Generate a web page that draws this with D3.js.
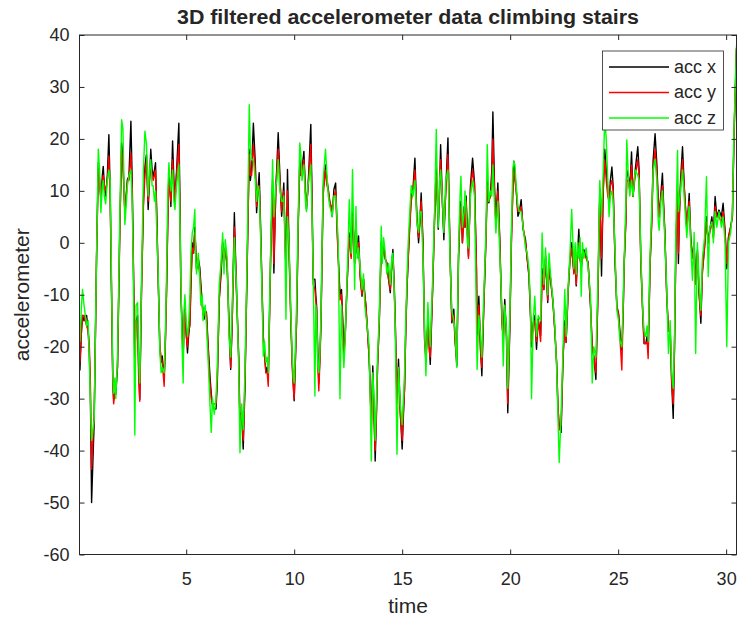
<!DOCTYPE html>
<html><head><meta charset="utf-8">
<script src="https://cdn.jsdelivr.net/npm/d3@7"></script>
<style>
body{margin:0;background:#fff}
svg{display:block}
text{font-family:"Liberation Sans",Arial,Helvetica,sans-serif;fill:#262626}
</style>
</head><body>
<svg id="chart" width="739" height="622"></svg>
<script>
const times=[0.06,0.08,0.15,0.20,0.27,0.33,0.39,0.46,0.51,0.56,
0.62,0.68,0.74,0.85,0.93,0.99,1.05,1.12,1.16,1.21,
1.27,1.35,1.42,1.48,1.54,1.60,1.64,1.70,1.74,1.82,
1.93,2.01,2.07,2.16,2.22,2.28,2.35,2.44,2.50,2.55,
2.62,2.68,2.75,2.80,2.85,2.93,3.02,3.09,3.16,3.24,
3.30,3.36,3.42,3.47,3.53,3.58,3.64,3.70,3.78,3.84,
3.89,3.98,4.04,4.09,4.15,4.20,4.25,4.29,4.37,4.43,
4.48,4.55,4.66,4.72,4.75,4.81,4.86,4.90,4.94,5.00,
5.06,5.11,5.17,5.22,5.28,5.34,5.40,5.45,5.48,5.56,
5.63,5.68,5.74,5.78,5.83,5.88,5.94,6.02,6.10,6.16,
6.22,6.30,6.38,6.44,6.53,6.61,6.69,6.75,6.81,6.90,
6.98,7.06,7.13,7.23,7.28,7.33,7.43,7.49,7.53,7.57,
7.64,7.72,7.83,7.92,7.97,8.03,8.11,8.20,8.26,8.32,
8.38,8.44,8.49,8.57,8.63,8.69,8.75,8.80,8.91,9.00,
9.06,9.15,9.20,9.26,9.34,9.42,9.48,9.52,9.57,9.62,
9.66,9.69,9.77,9.85,9.91,9.96,10.00,10.06,10.11,10.19,
10.26,10.31,10.36,10.45,10.52,10.57,10.63,10.68,10.77,10.83,
10.88,10.96,11.00,11.04,11.10,11.14,11.19,11.24,11.34,11.45,
11.52,11.58,11.65,11.71,11.76,11.84,11.92,11.98,12.04,12.12,
12.19,12.25,12.30,12.36,12.44,12.50,12.55,12.60,12.64,12.70,
12.75,12.80,12.86,12.92,12.98,13.06,13.14,13.21,13.27,13.32,
13.41,13.47,13.52,13.57,13.64,13.70,13.75,13.81,13.86,13.94,
14.03,14.08,14.14,14.22,14.29,14.37,14.45,14.52,14.57,14.63,
14.68,14.76,14.83,14.91,15.00,15.06,15.11,15.16,15.22,15.28,
15.34,15.42,15.50,15.59,15.64,15.68,15.76,15.82,15.88,15.96,
16.04,16.10,16.19,16.26,16.30,16.41,16.50,16.58,16.63,16.67,
16.73,16.78,16.87,16.93,17.02,17.12,17.17,17.22,17.30,17.39,
17.45,17.53,17.61,17.68,17.72,17.79,17.87,17.91,17.96,18.02,
18.07,18.16,18.26,18.35,18.44,18.47,18.55,18.63,18.69,18.78,
18.88,18.94,19.01,19.09,19.15,19.20,19.28,19.34,19.43,19.52,
19.62,19.68,19.75,19.83,19.89,19.99,20.06,20.12,20.17,20.22,
20.28,20.36,20.43,20.51,20.60,20.71,20.79,20.87,20.94,20.99,
21.07,21.14,21.22,21.30,21.41,21.48,21.56,21.64,21.74,21.80,
21.87,21.98,22.07,22.15,22.21,22.27,22.36,22.45,22.53,22.59,
22.69,22.76,22.85,22.95,23.01,23.06,23.12,23.18,23.24,23.29,
23.35,23.41,23.52,23.61,23.72,23.80,23.87,23.97,24.06,24.15,
24.23,24.31,24.38,24.45,24.52,24.58,24.64,24.71,24.77,24.86,
24.94,25.02,25.08,25.17,25.24,25.28,25.36,25.40,25.48,25.54,
25.62,25.69,25.79,25.91,25.97,26.05,26.13,26.20,26.28,26.34,
26.39,26.48,26.56,26.62,26.71,26.79,26.86,26.90,26.98,27.05,
27.10,27.16,27.25,27.33,27.41,27.48,27.55,27.61,27.67,27.75,
27.79,27.84,27.89,27.98,28.07,28.13,28.18,28.24,28.29,28.36,
28.44,28.52,28.59,28.67,28.75,28.83,28.90,29.00,29.09,29.17,
29.24,29.34,29.41,29.49,29.57,29.67,29.78,29.86,29.95,30.03,
30.11,30.21,30.29,30.37,30.48];

const accX=[-22,-24.5,-17,-14,-15,-14,-14,-17,-21,-28,
-50,-42,-34.6,-2.6,15.4,12,8.3,13,14.7,11,
9,13,20.8,10,-9,-26,-30,-29,-29.2,-24,
3.8,19.2,16,5.8,9,12.2,12.8,23.4,12,-2.6,
-21.8,-15,-14,-24,-30.1,-9,8,14.7,17,6.4,
12,18,14,12.8,14,15.4,5,-6.4,-20.5,-23,
-21.8,-26,-18,-9,5,13,11,7,19.6,12,
8,13.5,23,5,-9,-16,-22,-15,-12.2,-17,
-21.2,-18,-15.4,-8,0,-2,3,-2,-5.1,-3,
-4.8,-8,-11.5,-13,-14.7,-13,-13.5,-20,-25.6,-29,
-31.4,-32,-32,-27,-10.9,-6.4,0,-3.8,-1,-4.5,
-15.4,-24.4,-15.4,5.8,-2,-9,-21.8,-35,-33,-32.7,
-39.7,-28,-2.6,18,12,14.1,23,15.4,5.8,10,
13.5,4,-5.1,-18,-21,-25,-24,-26,-2.6,12,
-5.8,10.3,15,21.2,12.8,5.1,9,11.5,2,-5,
4,14.1,-2.6,-15.4,-23,-27,-30.4,-22,-15.4,3.8,
16,13,14.1,17.6,10,6.4,10,14.1,22.8,8,
-7,-7,-10,-12.2,-22,-27,-22,-15.4,10.3,15,
12,10.3,7.7,7,5.1,10.3,11.5,4,-2.6,-10,
-9,-15,-21,-18,-9,-3,1.9,0,-2.6,6,
2,-4,3.8,-2,1.3,-6.4,-10.3,-7,-10,-12.2,
-17.9,-22,-28.2,-35,-23.7,-33,-42,-33,-23.7,-15.4,
0,-3,-0.6,-3.2,-3.8,-7,-9.6,-4,-1.3,-8,
-15.4,-30,-22.4,-32,-39.7,-33,-28.2,-18,-9,-3,
2.6,9,10.3,16.3,10,5.1,0,4,9.6,0.6,
-18.6,-22,-15,-20,-23.4,-9,5.1,15,8,2.6,
10,18.9,7,0.6,10.3,20.2,8,-2.6,-15.4,-12.8,
-18.6,-23.7,-2.6,6,8,0,7,3,9,2,
-2.6,10.9,16.3,11.5,-5,-18,-10.3,-20.5,-25.6,-12.2,
0.6,12,7.7,9.6,14,25.2,10.3,4,11.5,0.6,
-15.4,-18,-10.9,-17.9,-32.7,-15.4,1.3,10,15.7,13,
10.3,5.1,6,8.3,2.6,0.6,-3.2,-6.4,-14.1,-20,
-15.4,-14,-20.5,-14.7,-17.9,-5,-9,-2.6,-11.5,-5,
-7,-11.5,-17,-23,-31.4,-35.3,-36.5,-21.8,-15,-19.2,
-9,-3.8,0,-5.8,-3,-8.3,-2,2.6,-3,-5,
-2,-1.3,-2.6,-3.8,-12.2,-20,-21.8,-26.3,-10.3,10.3,
-6.4,10.3,18,14,10,8,12,14.6,10.8,-4,
-12.3,-13.6,-17,-20.7,-12,-4,5,14,12.7,10.1,
17.5,8.9,14,18.5,14,-3.3,-12.3,-19.4,-19.4,-18,
-21,-4,5,15.9,21,15.3,8,5,9.5,13.4,
8,2.4,-10.4,-17,-16.8,-27,-33.8,-20,-1.4,10,
-4,6,12,18.5,10.1,6,2.4,6,9.5,1.2,
-3,0,-8,-1.4,-9.8,-15.5,-5.3,-0.8,5,0,
2.4,5,1.2,8.9,5,6.3,5,7.6,2.4,-5,
1.2,3.1,5,21.7,37.4];

const accY=[-20,-23,-17,-14,-14,-15,-16,-17,-19,-26,
-43.6,-38,-33,-3,14,11,9,12,13,11,
10,12,16.7,9,-8,-27,-31,-29,-28,-23.7,
3,18,15,6,9,12,12,17.3,10,-3,
-22,-15,-16,-26,-30.5,-10,7,13,16,8,
12,15,13,12,13,14,4,-6,-20,-22,
-23,-27.6,-19,-10,4,12,10,8,16,11,
8,13,19,3,-8,-17,-22,-16,-13,-18,
-20,-17,-16,-8,-1,-2,2,-2,-5,-4,
-6,-9,-12,-14,-14,-13,-14,-21,-27,-30,
-31,-31,-31,-26,-11,-5,0,-4,-1,-5,
-15,-24,-15,3,-3,-10,-22,-36,-33,-33,
-38,-27,-3,17,13,13,19,14,7,10,
11,3,-5,-19,-22,-25,-25,-27.6,-3,11,
-4,10,14,18,12,6,9,10,2,-6,
3,10,-3,-16,-24,-28,-30,-22,-15,4,
15,13,14,16,10,7,10,13,19,7,
-8,-9,-11,-13,-24,-28.5,-23,-16,9,14,
11,10,8,7,6,9,10,3,-3,-11,
-10,-16,-22,-18,-9,-3,1,-1,-3,5,
2,-4,3,-2,0,-7,-10,-7,-10,-12,
-18,-22,-28,-36,-26,-34,-40,-32,-24,-15,
-1,-3,-1,-3,-4,-7,-9,-4,-3,-8,
-15,-31,-24,-33,-38,-32,-28,-18,-9,-3,
2,8,10,14,9,5,1,4,8,0,
-19,-23,-16,-21,-22,-9,4,13,8,4,
10,16,7,2,10,17,8,-3,-15,-14,
-19,-22.5,-3,5,7,0,6,3,8,2,
-3,10,14,11,-5,-17,-12,-21,-24,-12,
1,11,8,9,12,20,9,4,10,0,
-15,-19,-12,-18,-31,-15,0,9,14,12,
10,6,6,7,3,0,-3,-6,-13,-19,
-16,-15,-19,-15,-19,-6,-9,-3,-11,-5,
-7,-11,-17,-23,-31,-36,-35,-22,-16,-19,
-9,-4,-1,-6,-3,-8,-2,0,-3,-5,
-2,-2,-3,-4,-12,-20,-22,-25,-11,9,
-3,10,16,12,9,8,11,12,10,-4,
-12,-14,-18,-24.5,-12,-4,4,12,12,10,
15,9,13,16,13,-4,-13,-19.4,-19.4,-19,
-22.3,-4,4,14,18,14,7,5,9,11,
7,2,-10,-17,-17,-27,-31,-20,-2,9,
-2,6,11,16,10,6,3,6,8,1,
-3,-1,-8,-2,-10,-14,-6,-1,4,0,
2,4,1,7,5,5,4,6,2,-4,
1,3,5,21,37.5];

const accZ=[-17,-19,-12,-9,-12,-14,-16,-15,-22,-30,
-38,-36,-34,-2,18,14,5.8,11,12,9,
7.5,12,14,12,-6,-25,-29,-26,-30,-22,
6,23.7,22,3.5,7,11,13,14,8,-5,
-37,-12,-11.5,-22,-27,-8,14,21.5,19,9,
14,16,11,11,8,10,2,-5,-21,-25,
-24,-25,-17,-6,10,15.4,12,10,14,8,
6.4,11,15,2,-6,-20,-27,-13,-10,-15,
-18,-16,-10,-2,1.9,3,6.4,-4,-6,-2,
-7,-12,-10,-15,-13,-12,-16,-23,-31,-36.5,
-30,-33,-30,-24,-8,-4,1.9,-6,0.6,-3,
-18,-22,-12,1,-5,-8,-24,-40.4,-35,-31,
-36,-25,0,26.6,18,16,16,12,8,11,
10,2,-6,-21.8,-19,-23,-22,-25,-1,16,
5,11,12,16,10,8,8,9,0,-14.7,
2,5,-1,-14,-22,-26,-27,-20,-12,6,
19.2,17,12,15,8,6,11,12,15,5,
-6,-29.5,-12,-14,-24,-25,-21,-14,12,18,
13,9,7,6,5,9,9,5,0,-30,
-12,-20,-24,-19,-8,0,8.3,2,-2,14.1,
3,-9,7,-3,-1,-5,-9,-6,-12,-14,
-17,-20,-30,-42,-25,-30,-38,-30,-22,-14,
3.2,-4,1,-2,-6,-4,-8,-3,-2,-9,
-17,-40.7,-24,-31,-35,-30,-25,-16,-7,0,
5,11,9,12,8,4,2,6,6,-2,
-17,-25.6,-11.5,-18,-20,-7,6,21.8,9,3,
12,14,8,2,12,14,6,-4,-13,-15,
-17,-24,-1,9,12.8,3,6,10,6,0,
-1,9,12,9,-15.4,-24.4,-14,-18,-22,-10,
2,18.9,8,10,9,15,7,1.9,8,-2,
-13,-23.7,-12,-17,-28,-13,3,14,15.7,15,
11,7,6,6,3,-1,-2,-5,-12,-30,
-15,-10.3,-18,-14,-15,1.9,-8,-1,-10,-2,
-6,-11,-16,-24,-33,-42.3,-33,-20,-9,-18,
-8,-3,6.4,-5,0,-6,0,-3,1,-10.3,
0,-3,-1,-5,-10,-27,-20,-22,-8,12,
5,14,24,20,12,5,9,10,8,-2,
-13,-15,-18.7,-20,-10,-3,8,19.8,12,9,
12,9,14,13,12,-2,-12.3,-17,-18,-16,
-19,-2,7,14,16,12,4,2.4,8,10,
6,1,-9,-21.3,-15,-25,-28,-18,2,17.8,
6,8,10,14,8,4,1,5,7,0,
-7.2,2,-21.3,0,-8,-13,-3,1,12.7,-6.5,
3,4,0,6,3,6,3,5,0,-20,
0,2,6,23,38];

const seriesNames=["acc x","acc y","acc z"];
const seriesColors=["#000000","#ff0000","#00ff00"];
const xTicks=[5,10,15,20,25,30];
const yTicks=[-60,-50,-40,-30,-20,-10,0,10,20,30,40];
const titleText="3D filtered accelerometer data climbing stairs";
const xLabelText="time";
const yLabelText="accelerometer";

const svg=d3.select("#chart");
const P={left:79.5,right:736.5,top:35,bottom:554.5};
const xS=d3.scaleLinear().domain([0.06,30.48]).range([P.left,P.right]);
const yS=d3.scaleLinear().domain([-60,40]).range([P.bottom,P.top]);

svg.append("rect").attr("width",739).attr("height",622).attr("fill","#fff");

svg.append("defs").append("clipPath").attr("id","clip")
  .append("rect").attr("x",P.left).attr("y",P.top)
  .attr("width",P.right-P.left).attr("height",P.bottom-P.top);

const n=Math.min(times.length,accX.length,accY.length,accZ.length);
const series=[accX,accY,accZ].map((vals,i)=>({name:seriesNames[i],color:seriesColors[i],
  pts:d3.range(n).map(k=>[times[k],vals[k]])}));

const lineGen=d3.line().x(d=>xS(d[0])).y(d=>yS(d[1]));
const plotG=svg.append("g").attr("clip-path","url(#clip)");
series.forEach(s=>{
  plotG.append("path").attr("d",lineGen(s.pts)).attr("fill","none")
   .attr("stroke",s.color).attr("stroke-width",1.4).attr("stroke-linejoin","round");
});

// axes
const axCol="#262626";
const fmt=d=>String(d);
const axB=svg.append("g").attr("transform",`translate(0,${P.bottom})`)
  .call(d3.axisBottom(xS).tickValues(xTicks).tickSizeInner(-5).tickSizeOuter(0).tickFormat(fmt));
axB.selectAll("text").attr("y",18).attr("dy","0.71em").style("font-size","18px");
const axL=svg.append("g").attr("transform",`translate(${P.left},0)`)
  .call(d3.axisLeft(yS).tickValues(yTicks).tickSizeInner(-5).tickSizeOuter(0).tickFormat(fmt));
axL.selectAll("text").attr("x",-10).style("font-size","18px");
const axT=svg.append("g").attr("transform",`translate(0,${P.top})`)
  .call(d3.axisTop(xS).tickValues(xTicks).tickSizeInner(-5).tickSizeOuter(0).tickFormat(""));
const axR=svg.append("g").attr("transform",`translate(${P.right},0)`)
  .call(d3.axisRight(yS).tickValues(yTicks).tickSizeInner(-5).tickSizeOuter(0).tickFormat(""));
[axB,axL,axT,axR].forEach(a=>{
  a.select(".domain").remove();
  a.selectAll("line").attr("stroke",axCol);
  a.selectAll("text").attr("fill",axCol).style("font-family",'"Liberation Sans",Arial,sans-serif');
});
svg.append("rect").attr("x",P.left).attr("y",P.top).attr("width",P.right-P.left)
  .attr("height",P.bottom-P.top).attr("fill","none").attr("stroke",axCol).attr("stroke-width",1);

// title and labels
svg.append("text").attr("x",(P.left+P.right)/2).attr("y",24).attr("text-anchor","middle")
  .style("font-size","20px").style("font-weight","bold")
  .attr("textLength",462).attr("lengthAdjust","spacingAndGlyphs").text(titleText);
svg.append("text").attr("x",(P.left+P.right)/2).attr("y",613).attr("text-anchor","middle")
  .style("font-size","21px").text(xLabelText);
svg.append("text").attr("transform",`translate(29,${(P.top+P.bottom)/2}) rotate(-90)`)
  .attr("text-anchor","middle").style("font-size","21px").text(yLabelText);

// legend
const L={x:602.5,y:51,w:121,h:79};
const lg=svg.append("g");
lg.append("rect").attr("x",L.x).attr("y",L.y).attr("width",L.w).attr("height",L.h)
  .attr("fill","#fff").attr("stroke",axCol).attr("stroke-width",0.8);
series.forEach((s,i)=>{
  const yy=L.y+16+i*25.5;
  lg.append("line").attr("x1",609).attr("x2",669).attr("y1",yy).attr("y2",yy)
    .attr("stroke",s.color).attr("stroke-width",1.3);
  lg.append("text").attr("x",674).attr("y",yy).attr("dy","0.33em")
    .style("font-size","18px").text(s.name);
});
</script>
</body></html>
